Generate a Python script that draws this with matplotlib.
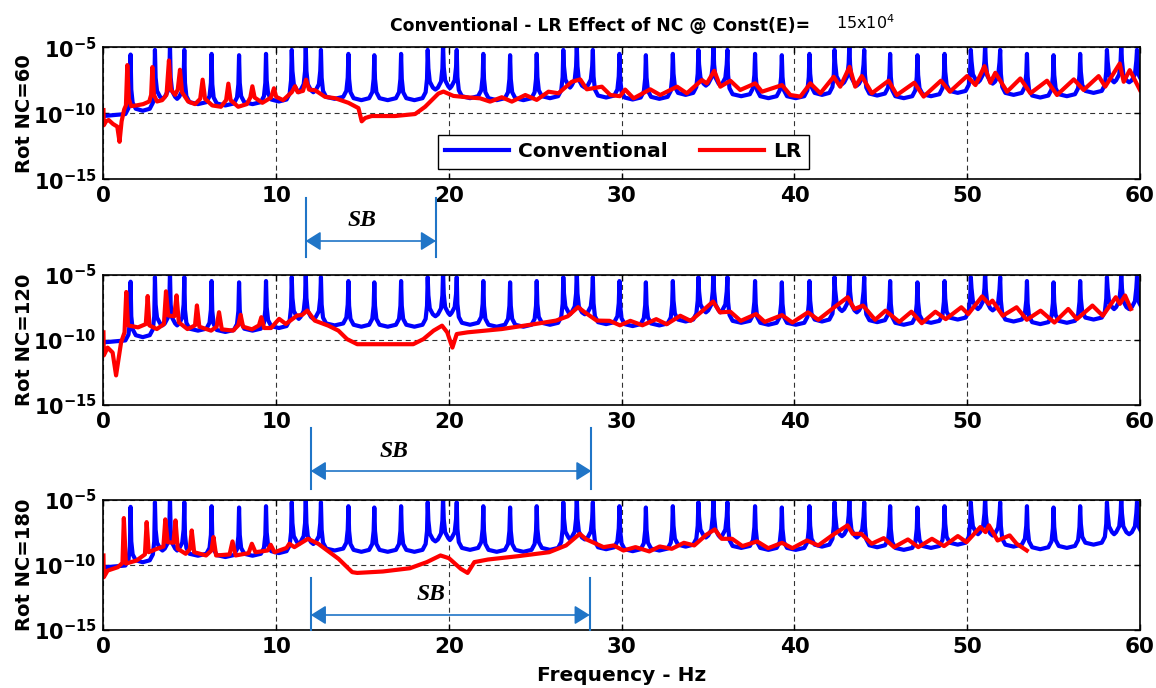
import numpy as np
import matplotlib.pyplot as plt
from matplotlib.ticker import FixedLocator, NullLocator
from matplotlib.transforms import blended_transform_factory
from matplotlib.lines import Line2D

plt.rcParams['font.family'] = ['DejaVu Sans']
plt.rcParams['mathtext.fontset'] = 'dejavusans'

# ---- data (levels are log10 of the response) ----
# conventional beam: resonance frequencies, peak level, floor between peaks
conv_peak_hz = [1.57, 2.98, 3.85, 4.68, 6.26, 7.85, 9.41, 10.90, 11.71, 12.59,
                14.18, 15.68, 17.23, 18.77, 19.66, 20.45, 21.99, 23.54, 25.08, 26.62,
                27.40, 28.33, 29.87, 31.40, 32.96, 34.44, 35.31, 36.12, 37.72, 39.27,
                40.87, 42.32, 43.18, 44.04, 45.54, 47.12, 48.69, 50.21, 51.04, 51.91,
                53.46, 55.00, 56.54, 58.09, 58.92, 59.83]
conv_peak_exp = [-5.55, -5.2, -4.8, -5.2, -5.5, -5.6, -5.5, -5.2, -4.8, -5.2,
                 -5.5, -5.6, -5.5, -5.2, -4.8, -5.2, -5.5, -5.6, -5.5, -5.2,
                 -4.8, -5.2, -5.5, -5.6, -5.5, -5.2, -4.8, -5.2, -5.5, -5.6,
                 -5.5, -5.2, -4.8, -5.2, -5.5, -5.6, -5.5, -5.2, -4.8, -5.2,
                 -5.5, -5.6, -5.5, -5.2, -4.8, -5.2]
conv_valley_exp = [-10.2, -9.8, -8.9, -8.9, -9.3, -9.4, -9.3, -9.1, -8.4, -8.4,
                   -8.9, -9.0, -9.0, -9.0, -8.2, -8.1, -8.85, -9.0, -9.0, -8.85,
                   -8.05, -8.05, -8.8, -8.95, -8.9, -8.6, -7.9, -7.9, -8.7, -8.85,
                   -8.85, -8.6, -7.8, -7.9, -8.65, -8.85, -8.7, -8.45, -7.65, -7.75,
                   -8.6, -8.8, -8.7, -8.45, -7.65, -7.65, -7.75]

# locally resonant beam, NC = 60 / 120 / 180  (Hz, log10 level)
lr60 = [(0.0, -9.75), (0.02, -10.9), (0.15, -10.6), (0.3, -10.5), (0.55, -10.8), (0.8, -11.0),
        (0.93, -12.15), (1.05, -10.6), (1.2, -9.7), (1.3, -9.4), (1.38, -6.35), (1.47, -8.9),
        (1.6, -9.45), (1.9, -9.4), (2.3, -9.3), (2.65, -9.1), (2.76, -8.6), (2.83, -6.5),
        (2.92, -8.6), (3.1, -9.1), (3.4, -9.0), (3.65, -8.6), (3.79, -6.0), (3.9, -8.2),
        (4.15, -8.6), (4.3, -8.2), (4.43, -6.7), (4.55, -8.4), (4.9, -9.1), (5.3, -9.3),
        (5.6, -8.9), (5.74, -7.45), (5.88, -8.9), (6.3, -9.4), (6.8, -9.5), (7.1, -9.0),
        (7.23, -7.75), (7.36, -9.0), (7.8, -9.5), (8.3, -9.3), (8.5, -8.8), (8.62, -7.95),
        (8.75, -8.8), (9.2, -9.2), (9.7, -8.8), (9.87, -8.1), (10.0, -8.75), (10.4, -9.0),
        (10.9, -8.4), (11.09, -7.95), (11.25, -8.4), (11.55, -8.3), (11.73, -7.45), (11.9, -8.2),
        (12.25, -8.25), (12.83, -8.75), (13.4, -8.85), (14.18, -9.2), (14.76, -9.6), (14.95, -10.6),
        (15.15, -10.35), (15.53, -10.2), (16.88, -10.2), (18.04, -10.05), (18.62, -9.5), (19.39, -8.5),
        (19.68, -8.35), (20.26, -8.68), (21.03, -8.78), (21.8, -8.86), (22.38, -9.11), (23.06, -8.78),
        (23.64, -9.11), (24.42, -8.61), (25.08, -8.98), (25.76, -8.36), (26.34, -8.48), (27.11, -7.61),
        (27.6, -7.43), (27.98, -8.18), (28.85, -7.98), (29.34, -8.61), (29.9, -8.7), (30.2, -8.2),
        (30.69, -8.86), (31.65, -8.18), (32.23, -8.61), (33.2, -7.98), (33.77, -8.48), (34.64, -7.48),
        (34.93, -7.73), (35.36, -6.78), (35.71, -7.98), (36.29, -7.53), (36.86, -8.23), (37.73, -7.73),
        (38.12, -8.36), (39.28, -7.86), (39.76, -8.61), (40.34, -8.73), (40.92, -7.73), (41.5, -8.48),
        (42.27, -7.23), (42.65, -7.98), (43.19, -6.48), (43.52, -7.98), (43.9, -7.18), (44.48, -8.48),
        (45.45, -7.53), (45.93, -8.61), (46.94, -7.68), (47.48, -8.73), (48.48, -7.53), (49.0, -8.36),
        (49.99, -7.18), (50.48, -7.86), (51.0, -6.43), (51.34, -7.68), (51.63, -6.93), (52.31, -8.36),
        (53.08, -7.36), (53.66, -8.48), (54.62, -7.53), (55.2, -8.61), (56.17, -7.43), (56.74, -8.23),
        (57.61, -7.18), (57.99, -7.98), (58.83, -6.23), (59.06, -7.61), (59.41, -6.73), (60.0, -8.23)]

lr120 = [(0.0, -9.43), (0.02, -11.2), (0.24, -10.6), (0.53, -10.98), (0.73, -12.73), (0.87, -11.5),
         (1.02, -10.2), (1.22, -9.43), (1.32, -6.34), (1.42, -8.9), (2.0, -9.05), (2.45, -8.8),
         (2.56, -6.65), (2.66, -8.9), (3.09, -9.18), (3.5, -8.8), (3.62, -6.29), (3.75, -8.14),
         (4.1, -8.2), (4.23, -6.6), (4.36, -8.66), (4.86, -9.18), (5.3, -8.9), (5.41, -7.37),
         (5.55, -9.0), (6.23, -9.3), (6.55, -9.0), (6.69, -7.89), (6.85, -9.2), (7.5, -9.3),
         (7.8, -8.9), (7.94, -8.09), (8.08, -9.0), (8.6, -9.2), (9.0, -8.9), (9.14, -8.27),
         (9.3, -9.1), (9.7, -9.1), (10.17, -8.4), (10.56, -8.79), (11.21, -8.14), (11.5, -8.1),
         (11.8, -7.76), (12.23, -8.53), (13.02, -8.92), (13.6, -9.3), (14.1, -9.95), (14.69, -10.34),
         (15.18, -10.34), (17.93, -10.34), (18.52, -9.95), (19.11, -9.3), (19.6, -8.92), (19.9, -9.43),
         (20.2, -10.6), (20.45, -9.56), (21.08, -9.43), (23.05, -9.18), (25.0, -8.79), (26.2, -8.53),
         (26.88, -8.2), (27.47, -7.5), (27.86, -7.89), (28.55, -8.53), (29.3, -8.55), (29.9, -8.89),
         (30.5, -8.55), (31.2, -8.89), (32.0, -8.42), (32.6, -8.81), (33.39, -8.16), (33.99, -8.55),
         (34.69, -7.77), (35.29, -7.07), (35.69, -7.9), (36.29, -7.85), (36.89, -8.55), (37.78, -8.03),
         (38.28, -8.63), (39.28, -8.11), (39.88, -8.68), (40.78, -7.9), (41.38, -8.47), (42.18, -7.64),
         (43.08, -6.74), (43.47, -7.64), (43.97, -7.38), (44.67, -8.47), (45.27, -7.77), (46.07, -8.63),
         (46.77, -7.85), (47.37, -8.73), (48.16, -7.85), (48.76, -8.42), (49.66, -7.51), (50.06, -8.03),
         (50.86, -6.68), (51.26, -7.25), (51.46, -7.0), (52.06, -8.16), (52.86, -7.51), (53.45, -8.47),
         (54.25, -7.77), (55.05, -8.68), (55.85, -7.64), (56.35, -8.42), (57.25, -7.38), (57.85, -8.16),
         (58.6, -6.74), (58.84, -7.25), (59.14, -6.61), (59.48, -7.64)]

lr180 = [(0.0, -9.28), (0.02, -10.95), (0.24, -10.44), (0.83, -10.18), (1.1, -9.85), (1.18, -6.41),
         (1.3, -9.9), (1.91, -9.67), (2.4, -9.2), (2.5, -6.72), (2.62, -9.03), (3.09, -8.77),
         (3.47, -8.6), (3.58, -6.51), (3.72, -8.26), (4.05, -8.3), (4.17, -6.59), (4.3, -8.77),
         (4.76, -9.15), (5.0, -8.8), (5.11, -7.36), (5.25, -9.03), (5.94, -9.28), (6.25, -8.9),
         (6.37, -7.87), (6.52, -9.28), (7.3, -9.2), (7.47, -8.2), (7.65, -9.28), (8.4, -9.1),
         (8.59, -8.38), (8.8, -9.03), (9.5, -8.9), (9.68, -8.46), (9.9, -9.03), (10.6, -8.7),
         (10.76, -8.38), (11.05, -8.64), (11.84, -8.0), (12.43, -8.38), (13.61, -9.54), (14.4, -10.56),
         (14.69, -10.62), (16.17, -10.51), (17.74, -10.26), (18.72, -9.79), (19.51, -9.28), (20.0, -9.49),
         (20.69, -10.31), (21.08, -10.62), (21.47, -9.79), (22.26, -9.59), (24.03, -9.33), (25.8, -9.03),
         (26.78, -8.51), (27.57, -7.62), (27.96, -8.05), (28.95, -8.64), (29.54, -8.51), (30.1, -8.9),
         (30.8, -8.64), (31.6, -8.97), (32.2, -8.59), (32.9, -8.77), (33.6, -8.31), (34.2, -8.51),
         (34.9, -7.69), (35.39, -7.28), (35.79, -8.0), (36.39, -8.0), (36.99, -8.56), (37.84, -8.2),
         (38.48, -8.72), (39.28, -8.31), (39.88, -8.72), (40.72, -8.13), (41.38, -8.51), (42.18, -7.74),
         (43.07, -6.97), (43.37, -7.62), (43.87, -7.62), (44.47, -8.38), (45.17, -7.95), (45.77, -8.64),
         (46.57, -8.05), (47.17, -8.64), (47.96, -8.0), (48.66, -8.56), (49.46, -7.79), (49.96, -8.26),
         (50.76, -7.1), (51.06, -7.49), (51.26, -6.97), (51.76, -8.13), (52.46, -7.74), (52.86, -8.38),
         (53.45, -8.9)]

panel_labels = ['Rot NC=60', 'Rot NC=120', 'Rot NC=180']
sb_start_hz = [11.7, 12.0, 12.0]
sb_end_hz = [19.25, 28.25, 28.15]

# ---- styling / layout ----
BLUE, RED, SB_COL = '#0000ff', '#ff0000', '#2075c7'
NEEDLE_DX = [0.30, 0.12, 0.04]      # half-width of a resonance needle (Hz)
NEEDLE_RISE = [0.15, 0.6, 1.6]      # height above the floor at those offsets (decades)


def needle_trace(peaks, tops, floors):
    xs, ys = [0.0], [floors[0]]
    for i, (f, top) in enumerate(zip(peaks, tops)):
        for dx, r in zip(NEEDLE_DX, NEEDLE_RISE):
            xs.append(f - dx); ys.append(floors[i] + r)
        xs.append(f); ys.append(top)
        for dx, r in zip(NEEDLE_DX[::-1], NEEDLE_RISE[::-1]):
            xs.append(f + dx); ys.append(floors[i + 1] + r)
        if i + 1 < len(peaks):
            xs.append((f + peaks[i + 1]) / 2); ys.append(floors[i + 1])
    xs.append(60.5); ys.append(floors[-1])
    return np.array(xs), 10.0 ** np.array(ys)


conv_x, conv_y = needle_trace(conv_peak_hz, conv_peak_exp, conv_valley_exp)

fig = plt.figure(figsize=(11.56, 6.88), dpi=100)
left, width = 0.0895, 0.8966
boxes = [(0.7391, 0.1922), (0.4113, 0.1897), (0.0843, 0.1894)]
axes = []
for (bottom, h), lr, lab in zip(boxes, [lr60, lr120, lr180], panel_labels):
    ax = fig.add_axes([left, bottom, width, h])
    lr_x = [p[0] for p in lr]
    lr_y = [10.0 ** p[1] for p in lr]
    ax.plot(conv_x, conv_y, color=BLUE, lw=3.0, solid_joinstyle='round', label='Conventional')
    ax.plot(lr_x, lr_y, color=RED, lw=3.0, solid_joinstyle='round', label='LR')
    ax.set_yscale('log')
    ax.set_xlim(0, 60)
    ax.set_ylim(1e-15, 1e-5)
    ax.set_xticks(range(0, 61, 10))
    ax.yaxis.set_major_locator(FixedLocator([1e-15, 1e-10, 1e-5]))
    ax.yaxis.set_minor_locator(NullLocator())
    ax.set_yticklabels([r'$\mathbf{10^{-15}}$', r'$\mathbf{10^{-10}}$', r'$\mathbf{10^{-5}}$'])
    ax.tick_params(axis='x', labelsize=15.5, pad=5)
    ax.tick_params(axis='y', labelsize=15, pad=5)
    ax.tick_params(direction='in', length=4, width=1, top=True, right=True)
    for t in ax.get_xticklabels():
        t.set_fontweight('bold')
    ax.grid(True, which='major', color='k', ls=(0, (4.5, 3.5)), lw=0.8, alpha=0.8)
    for s in ax.spines.values():
        s.set_linewidth(1.2)
    ax.set_ylabel(lab, fontsize=14, fontweight='bold')
    ax.yaxis.set_label_coords(-0.067, 0.5)
    axes.append(ax)

leg = axes[0].legend(loc='center', bbox_to_anchor=(0.5015, 0.208), ncol=2,
                     prop={'weight': 'bold', 'size': 14.5}, frameon=True, fancybox=False,
                     edgecolor='k', framealpha=1, handlelength=3.2, handletextpad=0.45,
                     columnspacing=1.6, borderpad=0.35)
leg.get_frame().set_linewidth(1.0)

fig.text(0.5189, 0.9622, 'Conventional - LR Effect of NC @ Const(E)=', fontsize=12.4,
         fontweight='bold', ha='center', va='center')
fig.text(0.7487, 0.967, r'15x10$^{4}$', fontsize=11.5, ha='center', va='center')
fig.text(0.5378, 0.0102, 'Frequency - Hz', fontsize=14.5, fontweight='bold',
         ha='center', va='baseline')

# stop-band markers: (panel for x-scale, line top, line bottom, arrow y, label x, label y) in figure units
sb_layout = [(0, 0.7118, 0.6269, 0.6497, 14.95, 0.6802),
             (1, 0.3775, 0.2892, 0.3154, 16.8, 0.3435),
             (2, 0.1599, 0.0843, 0.1061, 18.95, 0.1366)]
for (k, ytop, ybot, yarr, xlab, ylab), f0, f1 in zip(sb_layout, sb_start_hz, sb_end_hz):
    ax = axes[k]
    tr = blended_transform_factory(ax.transData, fig.transFigure)
    for f in (f0, f1):
        fig.add_artist(Line2D([f, f], [ybot, ytop], transform=tr, color=SB_COL, lw=1.5))
    ax.annotate('', xy=(f1, yarr), xytext=(f0, yarr), xycoords=tr, textcoords=tr,
                arrowprops=dict(arrowstyle='<|-|>,head_length=0.4,head_width=0.25',
                                mutation_scale=23, color=SB_COL, lw=1.2,
                                shrinkA=0, shrinkB=0), annotation_clip=False)
    ax.text(xlab, ylab, 'SB', transform=tr, ha='center', va='center', fontsize=17,
            family='Liberation Serif', fontweight='bold', fontstyle='italic')

fig.savefig('out.png', dpi=100)
